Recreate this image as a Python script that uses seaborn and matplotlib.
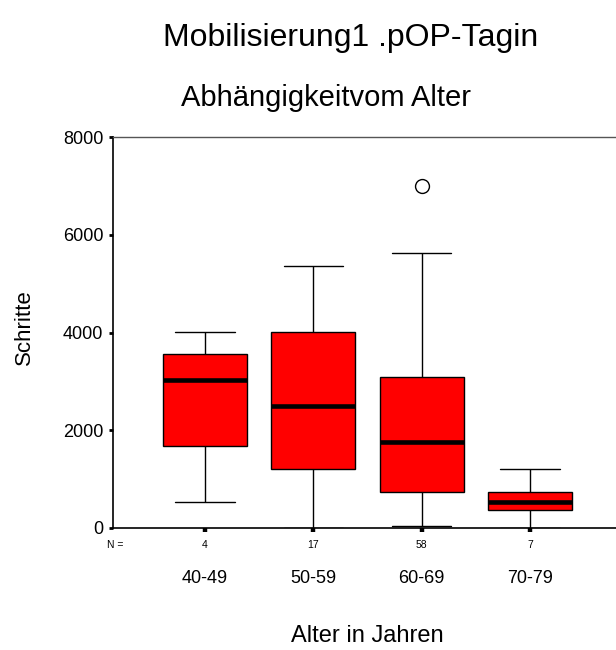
import numpy as np
import pandas as pd
import matplotlib
matplotlib.use("Agg")
import matplotlib.pyplot as plt
import matplotlib.transforms as mtransforms
import seaborn as sns

# ---- data ----
groups = ["40-49", "50-59", "60-69", "70-79"]
n_counts = [4, 17, 58, 7]
whisker_low = [530, 0, 50, 0]
q1 = [1680, 1210, 730, 370]
median = [3020, 2500, 1760, 530]
q3 = [3570, 4010, 3090, 730]
whisker_high = [4010, 5360, 5620, 1210]
outliers = [[], [], [7000], []]
y_ticks = [0, 2000, 4000, 6000, 8000]

# long table reproducing each group's five-number summary (+ outliers)
rows = []
for g, lo, a, m, b, hi, out in zip(groups, whisker_low, q1, median, q3, whisker_high, outliers):
    for v in [lo, a, a, m, m, b, b, hi] + list(out):
        rows.append({"group": g, "steps": v})
df = pd.DataFrame(rows)

sns.set_style("white")
plt.rcParams['font.family'] = ['Liberation Sans', 'DejaVu Sans']
plt.rcParams['text.color'] = 'black'
plt.rcParams['axes.labelcolor'] = 'black'
plt.rcParams['xtick.color'] = 'black'
plt.rcParams['ytick.color'] = 'black'

fig = plt.figure(figsize=(6.16, 6.5), dpi=100)
ax = fig.add_axes([113/616, 122/650, 509/616, 391/650])

sns.boxplot(data=df, x="group", y="steps", order=groups, color="#ff0000",
            saturation=1, width=0.775, linecolor="black", linewidth=1.0,
            whis=1.5, fliersize=10,
            flierprops=dict(marker='o', markerfacecolor='white',
                            markeredgecolor='black', markeredgewidth=1.0),
            medianprops=dict(color='black', linewidth=3.3),
            capwidths=0.55, ax=ax)

ax.set_xlim(-0.849, 3.849)
ax.set_ylim(0, 8000)
ax.set_yticks(y_ticks)
ax.set_yticklabels([str(t) for t in y_ticks])
ax.set_xticks(range(len(groups)))
ax.set_xticklabels(groups)

for s in ["left", "bottom"]:
    ax.spines[s].set_color("black")
    ax.spines[s].set_linewidth(1.2)
ax.spines["top"].set_color("#555555")
ax.spines["top"].set_linewidth(1.0)
ax.spines["right"].set_visible(False)

ax.tick_params(axis='y', direction='out', length=3, width=2, color='black',
               labelsize=13, pad=4, left=True)
ax.tick_params(axis='x', direction='out', length=3, width=3.2, color='black',
               labelsize=13, pad=27, bottom=True)

trans = mtransforms.blended_transform_factory(ax.transData, ax.transAxes)
for i, n in enumerate(n_counts):
    ax.text(i, -0.0435, str(n), transform=trans, ha='center', va='center', fontsize=7.5)
ax.text(-0.756, -0.0435, "N =", transform=trans, ha='right', va='center', fontsize=7.5)

ax.set_xlabel("Alter in Jahren", fontsize=17)
ax.xaxis.set_label_coords(0.5, -0.276)
ax.xaxis.label.set_va('center')
ax.set_ylabel("Schritte", fontsize=16)
ax.yaxis.set_label_coords(-0.173, 0.514)
ax.yaxis.label.set_va('center')

fig.text(351/616, 1 - 38/650, "Mobilisierung1 .pOP-Tagin", ha='center', va='center', fontsize=23)
fig.text(326/616, 1 - 98/650, "Abhängigkeitvom Alter", ha='center', va='center', fontsize=21)

fig.savefig("out.png", dpi=100)
